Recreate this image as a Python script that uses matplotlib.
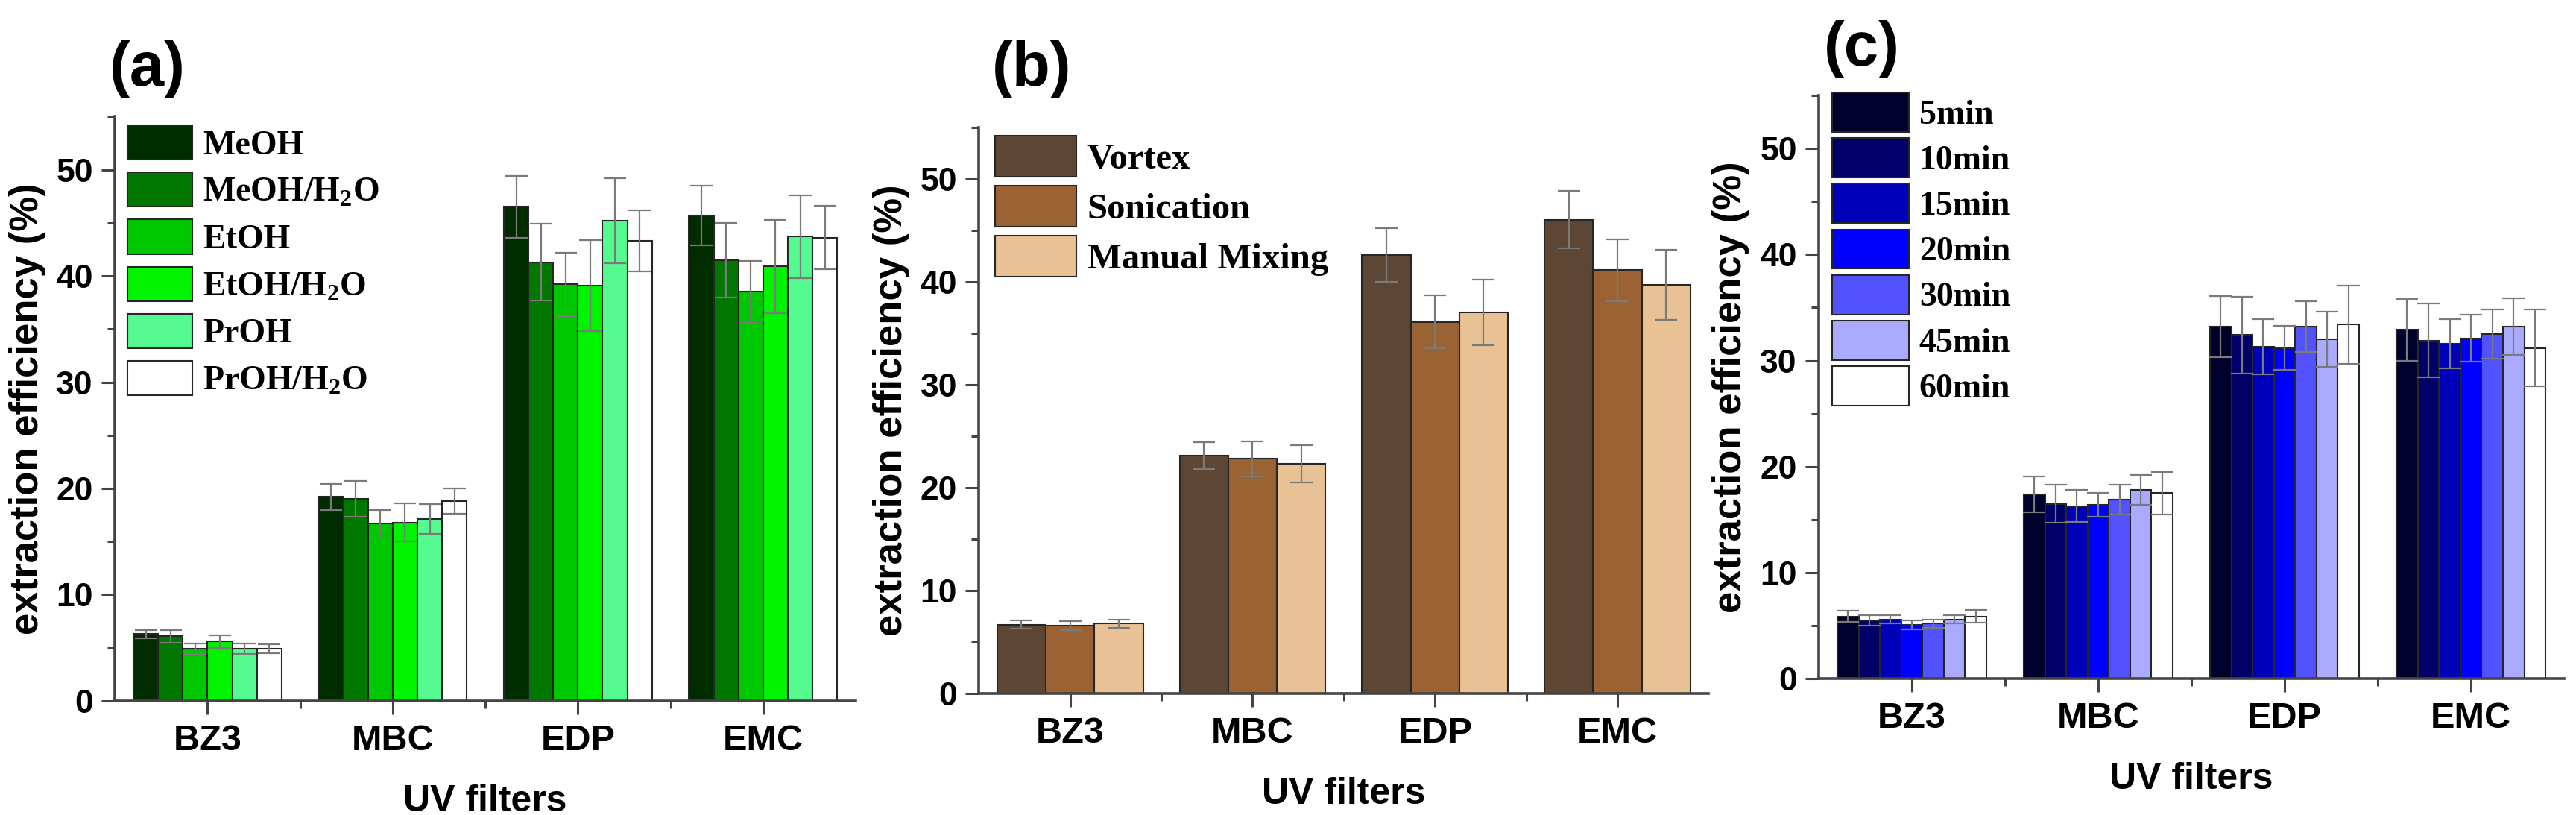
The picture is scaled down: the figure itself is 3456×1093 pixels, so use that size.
import numpy as np
import matplotlib
matplotlib.use('Agg')
from matplotlib import pyplot as plt
from matplotlib.ticker import MultipleLocator, FixedLocator

plt.rcParams['font.family'] = ['Liberation Sans', 'DejaVu Sans']
plt.rcParams['font.weight'] = 'bold'
plt.rcParams['axes.labelweight'] = 'bold'

filters = ['BZ3', 'MBC', 'EDP', 'EMC']

# (a) extraction solvent
solvents = ['MeOH', 'MeOH/H$_{\\mathregular{2}}$O', 'EtOH', 'EtOH/H$_{\\mathregular{2}}$O',
            'PrOH', 'PrOH/H$_{\\mathregular{2}}$O']
solvent_vals = [[6.3, 19.2, 46.5, 45.7],
                [6.1, 19.0, 41.3, 41.5],
                [4.9, 16.7, 39.2, 38.5],
                [5.6, 16.8, 39.1, 40.9],
                [4.9, 17.1, 45.2, 43.7],
                [4.9, 18.8, 43.3, 43.6]]
solvent_err = [[0.4, 1.2, 2.9, 2.8],
               [0.6, 1.7, 3.6, 3.5],
               [0.5, 1.3, 3.0, 2.9],
               [0.6, 1.8, 4.3, 4.4],
               [0.5, 1.4, 4.0, 3.9],
               [0.4, 1.2, 2.9, 3.0]]
solvent_colors = ['#002c00', '#007800', '#00c800', '#00f400', '#55fa90', '#ffffff']

# (b) mixing technique
methods = ['Vortex', 'Sonication', 'Manual Mixing']
method_vals = [[6.7, 23.1, 42.6, 46.0],
               [6.6, 22.8, 36.1, 41.1],
               [6.8, 22.3, 37.0, 39.7]]
method_err = [[0.4, 1.3, 2.6, 2.8],
              [0.4, 1.7, 2.6, 3.0],
              [0.4, 1.8, 3.2, 3.4]]
method_colors = ['#5e4634', '#9b6333', '#e8c195']

# (c) extraction time
times = ['5min', '10min', '15min', '20min', '30min', '45min', '60min']
time_vals = [[5.9, 17.4, 33.2, 32.9],
             [5.5, 16.5, 32.4, 31.9],
             [5.6, 16.3, 31.3, 31.6],
             [5.1, 16.4, 31.2, 32.1],
             [5.2, 16.9, 33.2, 32.5],
             [5.6, 17.8, 32.0, 33.2],
             [5.9, 17.5, 33.4, 31.2]]
time_err = [[0.5, 1.7, 2.9, 2.9],
            [0.5, 1.8, 3.6, 3.5],
            [0.4, 1.5, 2.6, 2.3],
            [0.4, 1.1, 2.1, 2.2],
            [0.4, 1.4, 2.4, 2.3],
            [0.4, 1.4, 2.6, 2.7],
            [0.6, 2.0, 3.7, 3.6]]
time_colors = ['#00002c', '#000068', '#0000b8', '#0000ff', '#5252ff', '#aaaaff', '#ffffff']

fig = plt.figure(figsize=(34.56, 10.93), dpi=100)

# axes rect, names, values, errors, colours, tag, tag position,
# legend: size, anchor, handlelength, handleheight, labelspacing
panels = [
    ([0.0446, 0.140, 0.2876, 0.717], solvents, solvent_vals, solvent_err, solvent_colors,
     '(a)', (0.0425, 0.915), 33, (0.017, 0.985), 1.9, 1.17, 0.32),
    ([0.380, 0.149, 0.2833, 0.695], methods, method_vals, method_err, method_colors,
     '(b)', (0.385, 0.915), 35, (0.022, 0.985), 2.25, 1.36, 0.25),
    ([0.706, 0.167, 0.2894, 0.716], times, time_vals, time_err, time_colors,
     '(c)', (0.708, 0.94), 33, (0.018, 1.005), 2.25, 1.4, 0.18),
]

x = np.arange(1, len(filters) + 1)
for (rect, names, vals, errs, colors, tag, tagpos,
     legsize, anchor, hlen, hhgt, lspace) in panels:
    ax = fig.add_axes(rect)
    n = len(names)
    w = 0.8 / n
    for i in range(n):
        pos = x - 0.4 + w * (i + 0.5)
        ax.bar(pos, vals[i], w, yerr=errs[i], color=colors[i], edgecolor='#262626',
               linewidth=1.5, label=names[i],
               error_kw=dict(ecolor='#7a7a7a', elinewidth=1.6, capsize=11, capthick=1.6))
    ax.set_xlim(0.5, 4.5)
    ax.set_ylim(0, 55)
    ax.set_xticks(x)
    ax.set_xticklabels(filters, fontsize=35, fontweight='bold')
    ax.xaxis.set_minor_locator(FixedLocator([1.5, 2.5, 3.5]))
    ax.yaxis.set_major_locator(MultipleLocator(10))
    ax.yaxis.set_minor_locator(MultipleLocator(5))
    ax.tick_params(axis='y', labelsize=32, pad=8)
    ax.tick_params(axis='x', pad=9)
    ax.tick_params(which='major', length=13, width=2.2, color='#444444')
    ax.tick_params(which='minor', length=7, width=2.2, color='#444444')
    for lab in ax.get_yticklabels():
        lab.set_fontweight('bold')
    for s in ['top', 'right']:
        ax.spines[s].set_visible(False)
    for s in ['left', 'bottom']:
        ax.spines[s].set_linewidth(2.6)
        ax.spines[s].set_color('#444444')
    ax.set_xlabel('UV filters', fontsize=36, labelpad=26)
    ax.set_ylabel('extraction efficiency (%)', fontsize=38, labelpad=10)
    fig.text(tagpos[0], tagpos[1], tag, fontsize=60, fontweight='bold',
             va='center', ha='left')
    ax.legend(loc='upper left', bbox_to_anchor=anchor, frameon=False,
              prop={'family': 'Liberation Serif', 'weight': 'bold', 'size': legsize},
              handlelength=hlen, handleheight=hhgt, labelspacing=lspace,
              handletextpad=0.3, borderaxespad=0, borderpad=0)

fig.savefig('out.png', dpi=100)
